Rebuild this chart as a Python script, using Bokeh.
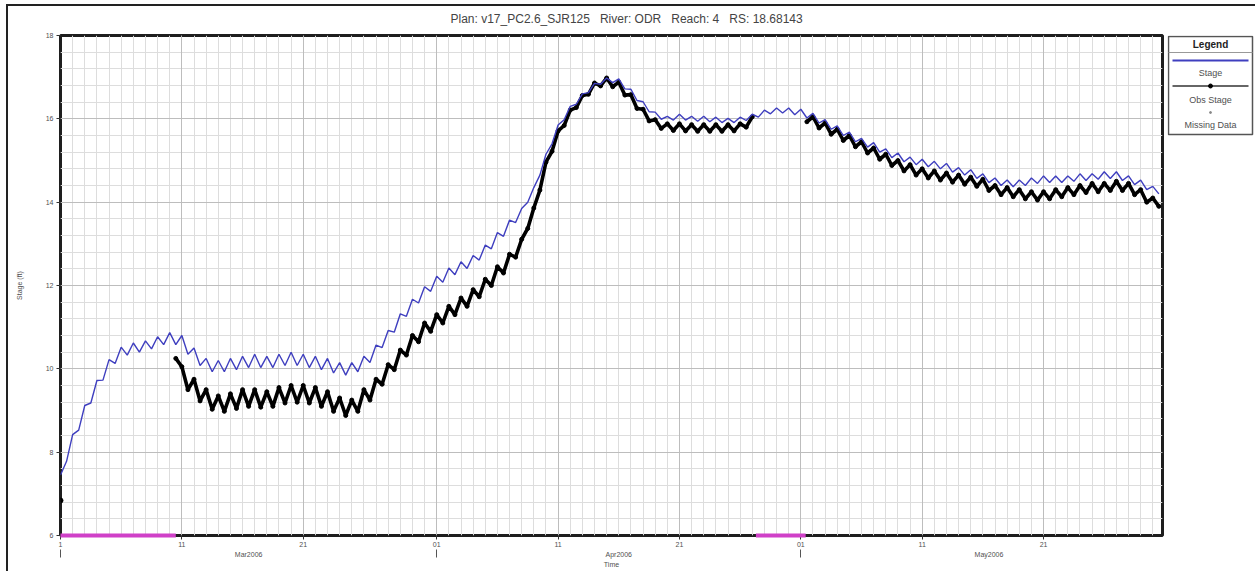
import numpy as np
from bokeh.plotting import figure
from bokeh.layouts import row
from bokeh.models import Range1d, FixedTicker, Grid, LinearAxis
from bokeh.core.properties import value
from bokeh.embed import file_html
from bokeh.resources import INLINE

# ---------------- data (days since 1 Mar 2006) ----------------
NB = "\u00a0"
title_text = ("Plan: v17_PC2.6_SJR125" + NB * 3 + "River: ODR" + NB * 3 +
              "Reach: 4" + NB * 3 + "RS: 18.68143")
tick_days = [0, 10, 20, 31, 41, 51, 61, 71, 81]
tick_labels = ["1", "11", "21", "01", "11", "21", "01", "11", "21"]
month_start_days = [0, 31, 61]
month_mid_days = [15.5, 46, 76.5]
month_labels = ["Mar2006", "Apr2006", "May2006"]
y_ticks = [6, 8, 10, 12, 14, 16, 18]
legend_labels = ["Stage", "Obs Stage", "Missing Data"]

sample_step = 0.5  # half-day samples

stage_start = 0.0
stage = [
    7.45, 7.78, 8.42, 8.53, 9.12, 9.18, 9.72, 9.73, 10.22, 10.13,
    10.52, 10.33, 10.62, 10.40, 10.67, 10.48, 10.77, 10.58, 10.87, 10.58,
    10.80, 10.35, 10.50, 10.08, 10.25, 9.93, 10.20, 9.93, 10.25, 9.98,
    10.30, 10.03, 10.35, 10.03, 10.30, 10.03, 10.35, 10.08, 10.40, 10.08,
    10.35, 10.03, 10.30, 9.98, 10.25, 9.90, 10.15, 9.85, 10.15, 9.93,
    10.30, 10.15, 10.57, 10.51, 10.92, 10.88, 11.32, 11.26, 11.67, 11.58,
    11.97, 11.86, 12.22, 12.08, 12.42, 12.26, 12.57, 12.41, 12.72, 12.61,
    12.97, 12.88, 13.27, 13.18, 13.57, 13.51, 13.85, 14.00, 14.35, 14.65,
    15.15, 15.40, 15.85, 15.98, 16.30, 16.35, 16.60, 16.63, 16.85, 16.83,
    16.98, 16.87, 16.96, 16.72, 16.71, 16.44, 16.41, 16.17, 16.16, 15.99,
    16.06, 15.97, 16.11, 15.97, 16.06, 15.94, 16.06, 15.93, 16.04, 15.91,
    16.01, 15.91, 16.04, 15.96, 16.11, 16.04, 16.21, 16.12, 16.26, 16.14,
    16.26, 16.10, 16.23, 16.02, 16.13, 15.90, 15.98, 15.75, 15.83, 15.60,
    15.68, 15.45, 15.53, 15.32, 15.43, 15.20, 15.28, 15.07, 15.18, 14.97,
    15.08, 14.90, 15.03, 14.85, 14.98, 14.80, 14.93, 14.72, 14.83, 14.65,
    14.78, 14.57, 14.68, 14.47, 14.58, 14.40, 14.53, 14.37, 14.53, 14.40,
    14.58, 14.45, 14.63, 14.47, 14.63, 14.47, 14.63, 14.50, 14.68, 14.52,
    14.68, 14.55, 14.73, 14.57, 14.73, 14.52, 14.63, 14.42, 14.53, 14.30,
    14.38, 14.20,
]

obs_first_day = [0.0]
obs_first_val = [6.84]

obs_a_start = 9.5
obs_a = [
    10.25,
    10.05, 9.50, 9.75, 9.23, 9.50, 9.03, 9.35, 8.98, 9.40, 9.05,
    9.50, 9.10, 9.50, 9.08, 9.45, 9.10, 9.55, 9.18, 9.60, 9.20,
    9.60, 9.18, 9.55, 9.10, 9.45, 8.98, 9.30, 8.88, 9.25, 8.98,
    9.50, 9.25, 9.75, 9.63, 10.10, 9.98, 10.45, 10.33, 10.80, 10.65,
    11.10, 10.90, 11.30, 11.10, 11.50, 11.30, 11.70, 11.50, 11.90, 11.73,
    12.15, 12.00, 12.45, 12.30, 12.75, 12.68, 13.11, 13.37, 13.86, 14.29,
    14.96, 15.22, 15.71, 15.84, 16.21, 16.27, 16.56, 16.59, 16.86, 16.79,
    16.98, 16.77, 16.88, 16.57, 16.58, 16.25, 16.23, 15.95, 15.98, 15.77,
    15.88, 15.72, 15.88, 15.71, 15.86, 15.70, 15.86, 15.70, 15.86, 15.70,
    15.86, 15.71, 15.88, 15.80, 16.05,
]

obs_b_start = 61.5
obs_b = [
    15.93,
    16.05, 15.78, 15.90, 15.63, 15.75, 15.48, 15.60, 15.33, 15.45, 15.18,
    15.30, 15.03, 15.15, 14.88, 15.00, 14.75, 14.90, 14.65, 14.80, 14.58,
    14.75, 14.53, 14.70, 14.48, 14.65, 14.43, 14.60, 14.38, 14.55, 14.28,
    14.40, 14.18, 14.35, 14.13, 14.30, 14.08, 14.25, 14.05, 14.25, 14.08,
    14.30, 14.13, 14.35, 14.18, 14.40, 14.23, 14.45, 14.25, 14.45, 14.28,
    14.50, 14.28, 14.45, 14.18, 14.30, 14.00, 14.10, 13.90,
]

missing_start = [0.0, 57.3]
missing_end = [9.5, 61.4]
missing_level = [6.0, 6.0]

x_end = 90.8

# ---------------- style ----------------
W, H = 1255, 571
FL, FR, FT, FB = 60, 1162, 35, 535   # frame edges in page pixels
MAIN_W = FR + 5
FONT = "Liberation Sans"
STAGE_COLOR = "#3f3fbf"
MISSING_COLOR = "#d040c8"
TEXT_COLOR = "#505050"

# ---------------- main figure ----------------
p = figure(width=MAIN_W, height=H, output_backend="svg", toolbar_location=None,
           title=title_text, x_range=Range1d(0, x_end), y_range=Range1d(6, 18),
           min_border_left=FL, min_border_right=MAIN_W - FR, min_border_top=FT,
           min_border_bottom=H - FB, background_fill_color="white",
           border_fill_color=None)
p.title.align = "left"
p.title.offset = 390
p.title.standoff = 19
p.title.text_font = FONT
p.title.text_font_size = "12px"
p.title.text_font_style = "normal"
p.title.text_color = "#444444"
p.outline_line_color = "#1e1e1e"
p.outline_line_width = 3

# grids
p.xgrid.ticker = FixedTicker(ticks=list(range(0, 91)))
p.xgrid.grid_line_color = "#dddddd"
p.ygrid.ticker = FixedTicker(ticks=[round(6 + 0.4 * i, 1) for i in range(31)])
p.ygrid.grid_line_color = "#dddddd"
p.add_layout(Grid(dimension=0, ticker=FixedTicker(ticks=tick_days),
                  grid_line_color="#bdbdbd"))
p.add_layout(Grid(dimension=1, ticker=FixedTicker(ticks=y_ticks),
                  grid_line_color="#bdbdbd"))

# axes
p.xaxis.ticker = FixedTicker(ticks=tick_days)
p.xaxis.major_label_overrides = {d: t for d, t in zip(tick_days, tick_labels)}
p.yaxis.ticker = FixedTicker(ticks=y_ticks)
for ax in (p.xaxis[0], p.yaxis[0]):
    ax.axis_line_color = None
    ax.major_tick_in = 0
    ax.major_tick_out = 4
    ax.major_tick_line_color = "#333333"
    ax.minor_tick_line_color = None
    ax.major_label_text_font = FONT
    ax.major_label_text_font_size = "7px"
    ax.major_label_text_color = TEXT_COLOR
    ax.major_label_standoff = 3
p.xaxis[0].major_label_standoff = 2
p.yaxis.axis_label = "Stage (ft)"
p.yaxis.axis_label_text_font = FONT
p.yaxis.axis_label_text_font_size = "7px"
p.yaxis.axis_label_text_font_style = "normal"
p.yaxis.axis_label_text_color = TEXT_COLOR
p.yaxis.axis_label_standoff = 20

# second x axis: month names, month boundary marks, "Time"
month_axis = LinearAxis(
    ticker=FixedTicker(ticks=month_mid_days, minor_ticks=month_start_days),
    major_label_overrides={d: t for d, t in zip(month_mid_days, month_labels)},
    axis_line_color=None, major_tick_line_color=None, major_tick_out=0,
    major_tick_in=0, minor_tick_line_color="#555555", minor_tick_out=8,
    minor_tick_in=0, major_label_standoff=-7, major_label_text_font=FONT,
    major_label_text_font_size="7px", major_label_text_color=TEXT_COLOR,
    axis_label="Time", axis_label_standoff=0, axis_label_text_font=FONT,
    axis_label_text_font_size="7px", axis_label_text_font_style="normal",
    axis_label_text_color=TEXT_COLOR)
p.add_layout(month_axis, "below")

# series
stage_x = [stage_start + sample_step * i for i in range(len(stage))]
obs_a_x = [obs_a_start + sample_step * i for i in range(len(obs_a))]
obs_b_x = [obs_b_start + sample_step * i for i in range(len(obs_b))]

p.line(obs_a_x, obs_a, line_color="black", line_width=3.6)
p.scatter(obs_a_x, obs_a, size=4, color="black")
p.line(obs_b_x, obs_b, line_color="black", line_width=3.6)
p.scatter(obs_b_x, obs_b, size=4, color="black")
p.scatter(obs_first_day, obs_first_val, size=5, color="black")
p.line(stage_x, stage, line_color=STAGE_COLOR, line_width=1.4)
p.segment(x0=missing_start, y0=missing_level, x1=missing_end, y1=missing_level,
          line_color=MISSING_COLOR, line_width=4, level="overlay")

# ---------------- legend panel (page-pixel coordinates) ----------------
# In a row, the legend plot's frame is aligned with the main frame (FT..FB).
LW = W - MAIN_W
leg = figure(width=LW, height=H, output_backend="svg", toolbar_location=None,
             x_axis_location=None, y_axis_location=None,
             x_range=Range1d(MAIN_W, W), y_range=Range1d(FB, FT),
             min_border=0, min_border_left=0, min_border_right=0,
             min_border_top=0, min_border_bottom=0,
             background_fill_color=None, border_fill_color=None)
leg.title.visible = False
leg.grid.visible = False
leg.outline_line_color = None

bx0, bx1, cx = 1168, 1252, 1210
leg.quad(left=[bx0], right=[bx1], top=[36], bottom=[134], fill_color="white",
         line_color="#555555", line_width=1.5)
leg.line([bx0, bx1], [52, 52], line_color="#999999", line_width=1)
leg.text([cx], [44], text=["Legend"], text_align="center", text_baseline="middle",
         text_font=value(FONT), text_font_size="10px", text_font_style="bold",
         text_color="#222222")
leg.line([1172, 1248], [60, 60], line_color=STAGE_COLOR, line_width=2)
leg.line([1172, 1248], [85.5, 85.5], line_color="#333333", line_width=1.5)
leg.scatter([cx], [85.5], size=4, color="black")
leg.scatter([cx], [112], size=2, color="#888888")
leg.text([cx, cx, cx], [72, 99, 124], text=legend_labels, text_align="center",
         text_baseline="middle", text_font=value(FONT), text_font_size="9px",
         text_color=TEXT_COLOR)

layout = row(p, leg, styles={
    "background-color": "white",
    "box-shadow": "inset 6px 4px 0 0 white, inset 8px 6px 0 0 #222222",
})

open("out.html", "w").write(file_html(layout, INLINE))
